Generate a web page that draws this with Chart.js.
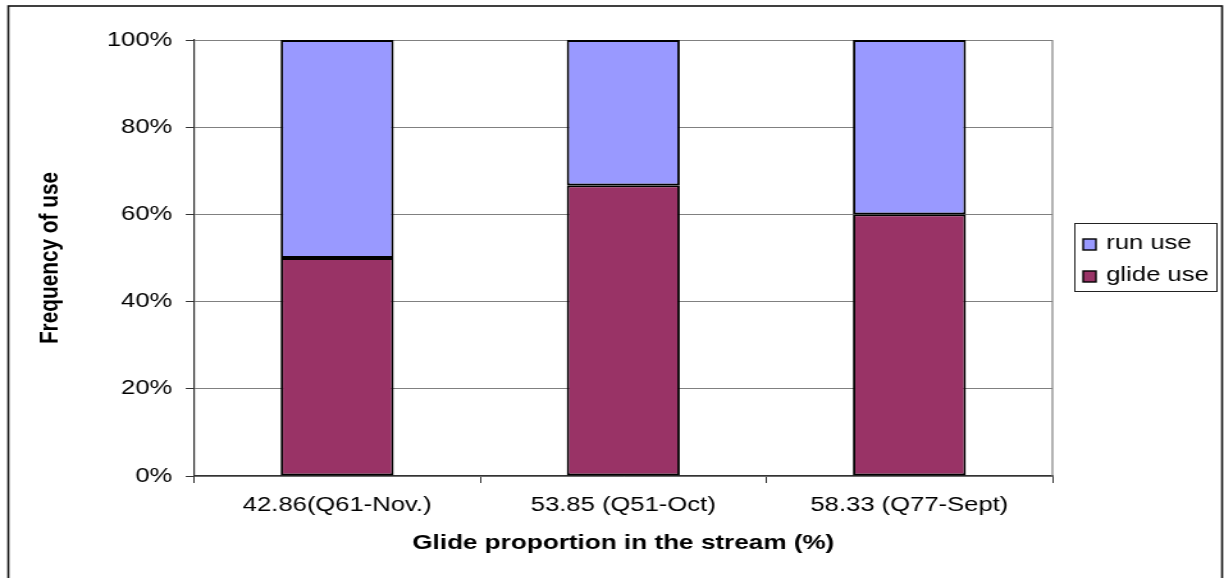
<!DOCTYPE html>
<html><head><meta charset="utf-8">
<script src="https://cdn.jsdelivr.net/npm/chart.js@4"></script>
<style>html,body{margin:0;padding:0;background:#fff;overflow:hidden}
#c{display:block;width:1224px;height:578px}</style></head>
<body><canvas id="c" width="956" height="578" style="width:1224px;height:578px"></canvas>
<script>
// Data
const categories = ['42.86(Q61-Nov.)', '53.85 (Q51-Oct)', '58.33 (Q77-Sept)'];
const glideUse = [50, 66.67, 60];
const runUse = [50, 33.33, 40];
const yTickValues = [0, 20, 40, 60, 80, 100];
const seriesLabels = ['glide use', 'run use'];
const seriesColors = ['#993366', '#9999FF'];

const FONT = '"Liberation Sans", Arial, sans-serif';

const framePlugin = {
  id: 'frame',
  beforeDraw(chart) {
    const ctx = chart.ctx;
    ctx.save();
    ctx.fillStyle = '#fff';
    ctx.fillRect(0, 0, chart.width, chart.height);
    ctx.restore();
  },
  afterDatasetsDraw(chart) {
    const {ctx, chartArea} = chart;
    ctx.save();
    ctx.strokeStyle = '#808080';
    ctx.lineWidth = 1.2;
    ctx.beginPath();
    ctx.moveTo(chartArea.right, chartArea.top);
    ctx.lineTo(chartArea.right, chartArea.bottom);
    ctx.stroke();
    ctx.restore();
  },
  afterDraw(chart) {
    const ctx = chart.ctx;
    ctx.save();
    ctx.strokeStyle = '#111';
    ctx.lineWidth = 1.6;
    ctx.strokeRect(6.5, 6, 948, 590);
    const lx = 839, ly = 223, lw = 111, lh = 68;
    ctx.strokeStyle = '#222';
    ctx.lineWidth = 1;
    ctx.strokeRect(lx + 0.5, ly + 0.5, lw, lh);
    ctx.font = '20px ' + FONT;
    ctx.textBaseline = 'alphabetic';
    const order = [1, 0];
    const rowsY = [249, 281];
    order.forEach((di, i) => {
      const ds = chart.data.datasets[di];
      const y = rowsY[i];
      ctx.fillStyle = ds.backgroundColor;
      ctx.fillRect(846, y - 10, 10, 11);
      ctx.strokeStyle = '#000';
      ctx.lineWidth = 1.4;
      ctx.strokeRect(846, y - 10, 10, 11);
      ctx.fillStyle = '#000';
      ctx.fillText(ds.label, 864, y);
    });
    ctx.restore();
  }
};

new Chart(document.getElementById('c'), {
  type: 'bar',
  data: {
    labels: categories,
    datasets: [
      { label: seriesLabels[0], data: glideUse, backgroundColor: seriesColors[0], borderColor: '#000', borderWidth: 1.9, borderSkipped: false },
      { label: seriesLabels[1], data: runUse, backgroundColor: seriesColors[1], borderColor: '#000', borderWidth: 1.9, borderSkipped: false }
    ]
  },
  options: {
    responsive: false,
    animation: false,
    devicePixelRatio: 1,
    layout: { padding: { left: 0, right: 134, top: 40, bottom: 0 } },
    plugins: { legend: { display: false }, tooltip: { enabled: false } },
    datasets: { bar: { barPercentage: 0.395, categoryPercentage: 1 } },
    scales: {
      x: {
        stacked: true,
        offset: true,
        grid: { display: true, drawOnChartArea: false, drawTicks: true, tickLength: 7, tickColor: '#333', offset: true },
        border: { display: true, color: '#333', width: 1.2 },
        ticks: { color: '#000', font: { family: FONT, size: 20 }, padding: 10, maxRotation: 0, autoSkip: false },
        title: { display: true, text: 'Glide proportion in the stream (%)', color: '#000', font: { family: FONT, size: 20.4, weight: 'bold' }, padding: { top: 0, bottom: 22 } },
        afterFit(scale) { scale.height = 102; }
      },
      y: {
        stacked: true,
        min: 0,
        max: 100,
        grid: { color: '#808080', lineWidth: 1, drawTicks: true, tickLength: 6.5, tickColor: '#333' },
        border: { display: true, color: '#333', width: 1.2 },
        afterBuildTicks(scale) { scale.ticks = yTickValues.map(v => ({ value: v })); },
        ticks: { color: '#000', font: { family: FONT, size: 20 }, padding: 10.5, callback: v => v + '%' },
        title: { display: true, text: 'Frequency of use', color: '#000', font: { family: FONT, size: 20.8, weight: 'bold' }, padding: { top: 27, bottom: 0 } },
        afterFit(scale) { scale.width = 151.6; }
      }
    }
  },
  plugins: [framePlugin]
});
</script>
</body></html>
